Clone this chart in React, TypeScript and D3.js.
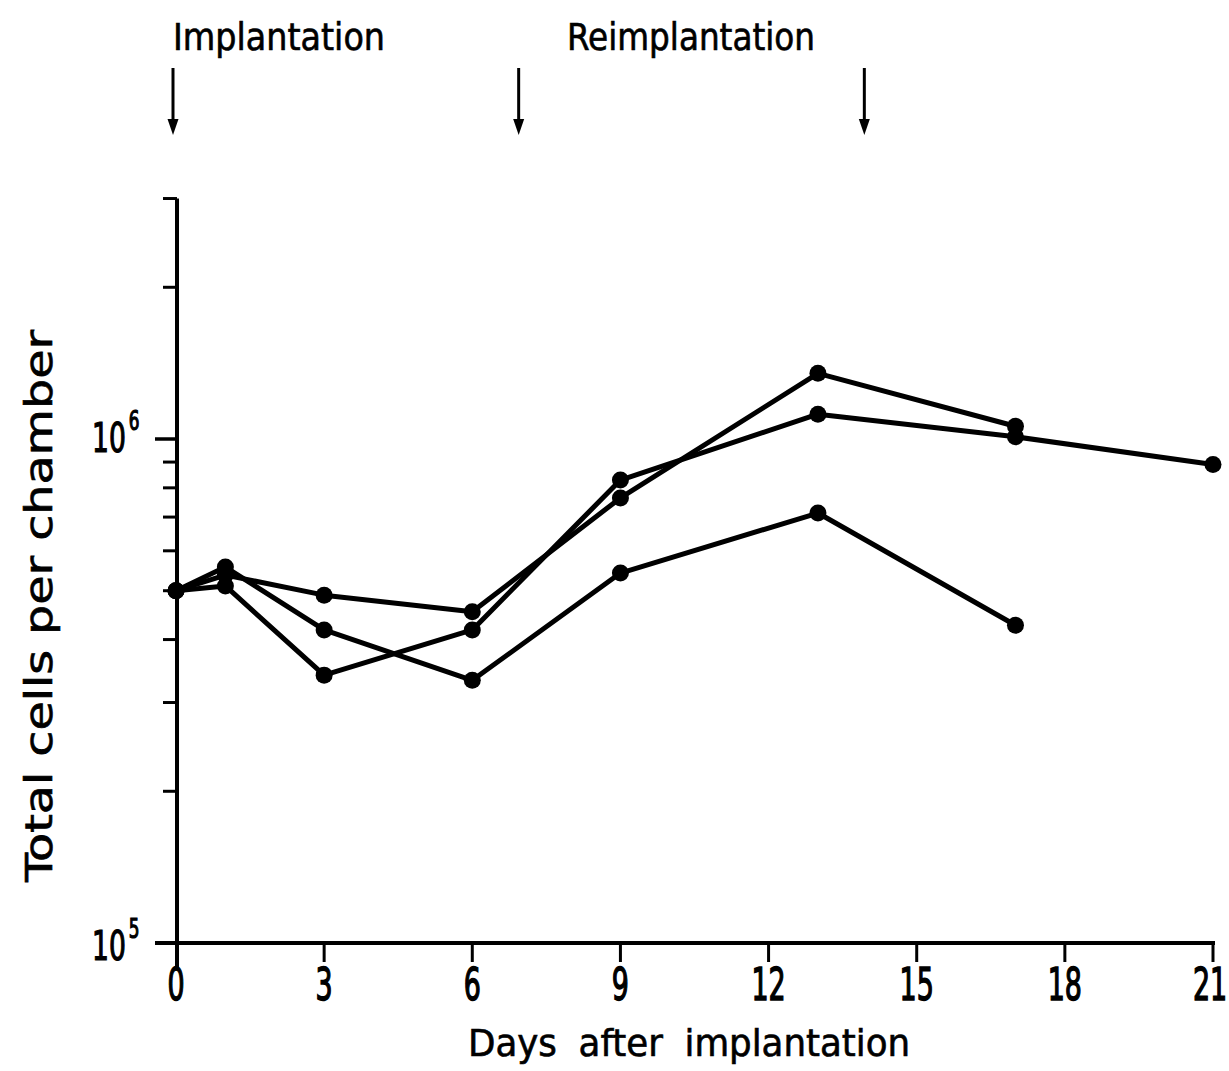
import React from "react";
import * as d3 from "d3";

const daysX = [0, 1, 3, 6, 9, 13, 17];
const seriesX = [5.0e5, 5.37e5, 4.9e5, 4.54e5, 7.64e5, 1.35e6, 1.06e6];
const daysY = [0, 1, 3, 6, 9, 13, 17, 21];
const seriesY = [5.0e5, 5.11e5, 3.4e5, 4.18e5, 8.29e5, 1.12e6, 1.01e6, 8.9e5];
const daysZ = [0, 1, 3, 6, 9, 13, 17];
const seriesZ = [5.0e5, 5.57e5, 4.18e5, 3.32e5, 5.42e5, 7.13e5, 4.27e5];

const xTicks = [0, 3, 6, 9, 12, 15, 18, 21];
const yMinorTicks = [2e5, 3e5, 4e5, 5e5, 6e5, 7e5, 8e5, 9e5, 2e6, 3e6];
const yMajorTicks = [1e5, 1e6];
const yMajorLabels = ["5", "6"];
const arrowDays = [0, 7, 14];
const topLabels = [
  { text: "Implantation", x0: 173, len: 212 },
  { text: "Reimplantation", x0: 567, len: 248 },
];

const FONT = "'DejaVu Sans Condensed', 'DejaVu Sans', sans-serif";

export default function App() {
  const x = d3.scaleLinear().domain([0, 21]).range([176, 1213]);
  const y = d3.scaleLog().domain([1e5, 3e6]).range([943, 943 - 504 * Math.log10(30)]);
  const axisX = x(0) + 1;

  const series = [
    { days: daysX, vals: seriesX },
    { days: daysY, vals: seriesY },
    { days: daysZ, vals: seriesZ },
  ];
  const line = d3
    .line<[number, number]>()
    .x((d) => x(d[0]))
    .y((d) => y(d[1]));

  return (
    <svg
      width={1229}
      height={1071}
      style={{ position: "absolute", left: 0, top: 0, background: "#fff" }}
      fontFamily={FONT}
    >
      <rect width={1229} height={1071} fill="#fff" />
      {/* top labels */}
      {topLabels.map((t) => (
        <text
          key={t.text}
          x={t.x0}
          y={50}
          fontSize={37}
          textLength={t.len}
          lengthAdjust="spacingAndGlyphs"
          fill="#000"
          stroke="#000"
          strokeWidth={0.6}
        >
          {t.text}
        </text>
      ))}
      {/* arrows */}
      {arrowDays.map((d) => {
        const ax = x(d) - 3;
        return (
          <g key={d}>
            <line x1={ax} x2={ax} y1={68} y2={122} stroke="#000" strokeWidth={3} />
            <path d={`M${ax - 5.5},${119} L${ax + 5.5},${119} L${ax},${135} Z`} fill="#000" />
          </g>
        );
      })}
      {/* y axis */}
      <line x1={axisX} x2={axisX} y1={y(3e6)} y2={968} stroke="#000" strokeWidth={4} />
      {yMinorTicks.map((v) => (
        <line key={v} x1={axisX - 14} x2={axisX} y1={y(v)} y2={y(v)} stroke="#000" strokeWidth={3} />
      ))}
      {yMajorTicks.map((v, i) => (
        <g key={v}>
          <line x1={axisX - 22} x2={axisX} y1={y(v)} y2={y(v)} stroke="#000" strokeWidth={3.5} />
          <g transform={`translate(92,${y(v) + (i === 0 ? 17 : 13)}) scale(0.72,1)`}>
            <text x={0} y={0} fontSize={41} fill="#000" stroke="#000" strokeWidth={1.2}>
              10
              <tspan dx={4} dy={-22} fontSize={26}>
                {yMajorLabels[i]}
              </tspan>
            </text>
          </g>
        </g>
      ))}
      {/* x axis */}
      <line x1={axisX - 22} x2={x(21) + 2} y1={y(1e5)} y2={y(1e5)} stroke="#000" strokeWidth={4} />
      {xTicks.map((t) => (
        <g key={t}>
          {t > 0 && (
            <line x1={x(t)} x2={x(t)} y1={y(1e5)} y2={y(1e5) + 19} stroke="#000" strokeWidth={3} />
          )}
          <g transform={`translate(${Math.min(x(t), 1210)},${1000}) scale(0.68,1)`}>
            <text x={0} y={0} fontSize={44} textAnchor="middle" fill="#000" stroke="#000" strokeWidth={1.4}>
              {t}
            </text>
          </g>
        </g>
      ))}
      {/* axis titles */}
      <text
        x={468}
        y={1056}
        fontSize={38}
        textLength={442}
        lengthAdjust="spacingAndGlyphs"
        fill="#000"
        stroke="#000"
        strokeWidth={0.6}
        wordSpacing={10}
      >
        Days after implantation
      </text>
      <text
        transform="translate(52,882) rotate(-90)"
        x={0}
        y={0}
        fontSize={37}
        textLength={552}
        lengthAdjust="spacingAndGlyphs"
        fill="#000"
        stroke="#000"
        strokeWidth={0.6}
      >
        Total cells per chamber
      </text>
      {/* data */}
      {series.map((s, i) => {
        const pts = s.days.map((d, j) => [d, s.vals[j]] as [number, number]);
        return (
          <g key={i}>
            <path d={line(pts) || ""} fill="none" stroke="#000" strokeWidth={5} strokeLinejoin="round" />
            {pts.map((p, j) => (
              <circle key={j} cx={x(p[0])} cy={y(p[1])} r={8.5} fill="#000" />
            ))}
          </g>
        );
      })}
    </svg>
  );
}
